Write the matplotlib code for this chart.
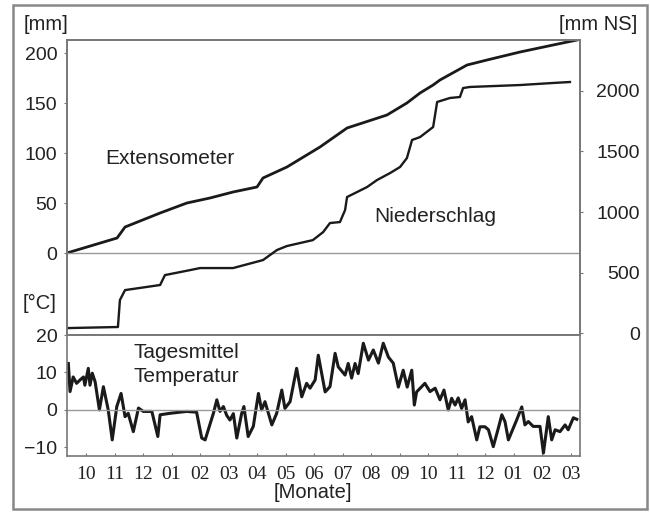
import matplotlib
matplotlib.use('Agg')
import matplotlib.pyplot as plt
from matplotlib.patches import Rectangle

# x in months, 0 = label "10" of the first year
ext_month = [-0.67, 1.09, 1.37, 2.60, 3.54, 4.35, 5.16, 6.00, 6.21, 7.05, 8.21, 9.16,
             10.56, 11.26, 11.72, 12.18, 12.42, 13.37, 14.07, 15.23, 16.39, 17.23]
ext_mm = [0, 15, 26, 40, 50, 55, 61, 66, 75, 86, 106, 125,
          138, 150, 160, 168, 173, 188, 193, 201, 208, 213]

ns_month = [-0.67, 1.12, 1.19, 1.37, 2.60, 2.77, 3.65, 4.00, 5.16, 6.21, 6.70, 7.05,
            7.96, 8.32, 8.56, 8.91, 9.09, 9.16, 9.51, 9.86, 10.21, 10.67, 11.02, 11.26,
            11.44, 11.72, 12.18, 12.32, 12.77, 13.12, 13.23, 13.47, 15.23, 16.39, 16.98]
ns_mm = [41, 50, 273, 355, 397, 479, 520, 537, 537, 603, 686, 719,
         768, 834, 909, 917, 1016, 1124, 1165, 1206, 1264, 1322, 1372, 1446,
         1595, 1619, 1702, 1909, 1942, 1950, 2024, 2033, 2049, 2066, 2074]

t_month = [-0.62, -0.56, -0.45, -0.33, -0.21, -0.09, -0.04, 0.08, 0.14, 0.22, 0.32, 0.47,
           0.61, 0.78, 0.92, 1.08, 1.23, 1.37, 1.48, 1.66, 1.84, 2.01, 2.31, 2.52,
           2.60, 2.95, 3.53, 3.88, 4.06, 4.18, 4.29, 4.47, 4.59, 4.70, 4.82, 4.94,
           5.05, 5.17, 5.29, 5.46, 5.54, 5.69, 5.87, 6.05, 6.16, 6.28, 6.52, 6.69,
           6.87, 6.98, 7.16, 7.39, 7.57, 7.74, 7.86, 8.04, 8.15, 8.39, 8.56, 8.74,
           8.85, 9.09, 9.20, 9.32, 9.44, 9.55, 9.73, 9.91, 10.08, 10.26, 10.43, 10.61,
           10.78, 10.96, 11.13, 11.27, 11.43, 11.52, 11.60, 11.89, 12.07, 12.25, 12.42, 12.56,
           12.71, 12.83, 12.95, 13.06, 13.18, 13.30, 13.41, 13.53, 13.71, 13.82, 14.00, 14.12,
           14.29, 14.47, 14.59, 14.70, 14.82, 14.94, 15.11, 15.29, 15.40, 15.52, 15.69, 15.93,
           16.05, 16.22, 16.34, 16.46, 16.63, 16.81, 16.92, 17.10, 17.22]
t_degc = [12.4, 4.9, 8.8, 7.1, 8.0, 8.8, 6.6, 11.1, 6.6, 9.8, 7.5, 0.0,
          6.2, 0.0, -8.0, 0.9, 4.4, -1.8, -0.9, -5.8, 0.5, -0.4, -0.4, -7.1,
          -1.3, -0.9, -0.4, -0.6, -7.5, -8.0, -5.3, -0.9, 2.7, -0.4, 0.9, -1.5,
          -2.7, -1.0, -7.5, -1.0, 0.9, -7.1, -4.4, 4.4, 0.0, 2.2, -4.0, -0.9,
          5.3, 0.4, 2.2, 11.1, 3.5, 7.1, 5.8, 8.0, 14.6, 4.8, 6.2, 15.1,
          11.5, 9.3, 12.4, 8.5, 12.4, 9.7, 17.8, 13.3, 16.0, 12.5, 17.8, 14.1,
          12.5, 6.1, 10.6, 6.1, 10.6, 1.3, 4.8, 7.1, 4.9, 5.8, 2.7, 5.3,
          0.0, 3.1, 1.3, 3.2, 0.4, 2.7, -3.2, -1.8, -8.0, -4.5, -4.5, -5.3,
          -9.8, -4.8, -1.3, -3.1, -8.0, -5.8, -2.7, 0.8, -4.0, -3.1, -4.4, -4.4,
          -11.5, -1.8, -8.0, -5.3, -5.8, -4.0, -5.3, -2.1, -2.5]

month_labels = ['10', '11', '12', '01', '02', '03', '04', '05', '06',
                '07', '08', '09', '10', '11', '12', '01', '02', '03']

plt.rcParams['font.family'] = ['Liberation Sans', 'DejaVu Sans']
txt = '#222222'
spc = '#777777'
line = '#1a1a1a'

fig = plt.figure(figsize=(6.5, 5.12), dpi=100)
fig.patches.append(Rectangle((13/650, 3/512), 634/650, 504/512, transform=fig.transFigure,
                             fill=False, edgecolor='#888888', lw=1.8))

W = 650.0
H = 512.0
ax = fig.add_axes([67/W, 1-335/H, 513/W, 295/H])
tax = fig.add_axes([67/W, 1-456/H, 513/W, 121/H])
ax2 = ax.twinx()

# upper panel: extensometer (left) and precipitation (right)
ax.plot(ext_month, ext_mm, color=line, lw=2.0)
ax.axhline(0, color='#999999', lw=1.0)
ax.set_xlim(-0.667, 17.333)
ax.set_ylim(-82, 213)
ax.set_yticks([0, 50, 100, 150, 200])
ax.set_xticks([])
ax.tick_params(axis='y', length=2.5, width=0.8, color=spc, pad=4.5, labelsize=14, labelcolor=txt)

ax2.plot(ns_month, ns_mm, color=line, lw=1.7)
ax2.set_ylim(-16, 2421)
ax2.set_yticks([0, 500, 1000, 1500, 2000])
ax2.tick_params(axis='y', length=2.5, width=0.8, color=spc, pad=40.5, labelsize=14, labelcolor=txt)
for lab in ax2.get_yticklabels():
    lab.set_horizontalalignment('right')

# lower panel: temperature
tax.plot(t_month, t_degc, color=line, lw=2.2)
tax.axhline(0, color='#999999', lw=1.0)
tax.set_xlim(-0.667, 17.333)
tax.set_ylim(-12.3, 20)
tax.set_yticks([-10, 0, 10, 20])
tax.set_xticks(range(len(month_labels)))
tax.set_xticklabels(month_labels, fontfamily='Liberation Serif')
tax.tick_params(axis='y', length=2.5, width=0.8, color=spc, pad=4.5, labelsize=14, labelcolor=txt)
tax.tick_params(axis='x', direction='in', length=2.5, width=0.8, color=spc, pad=7, labelsize=14, labelcolor=txt)

for a in (ax, ax2, tax):
    for s in a.spines.values():
        s.set_color(spc)
        s.set_linewidth(1.2)

fig.text(46/W, 1-25/H, '[mm]', fontsize=14.5, color=txt, ha='center', va='center')
fig.text(598/W, 1-25/H, '[mm NS]', fontsize=14.5, color=txt, ha='center', va='center')
fig.text(40/W, 1-303/H, '[°C]', fontsize=14.5, color=txt, ha='center', va='center')
fig.text(313/W, 1-493/H, '[Monate]', fontsize=14.5, color=txt, ha='center', va='center')
fig.text(170/W, 1-158/H, 'Extensometer', fontsize=15, color=txt, ha='center', va='center')
fig.text(435/W, 1-216/H, 'Niederschlag', fontsize=15, color=txt, ha='center', va='center')
fig.text(186/W, 1-352/H, 'Tagesmittel', fontsize=15, color=txt, ha='center', va='center')
fig.text(186/W, 1-377/H, 'Temperatur', fontsize=15, color=txt, ha='center', va='center')

fig.savefig('out.png', dpi=100)
